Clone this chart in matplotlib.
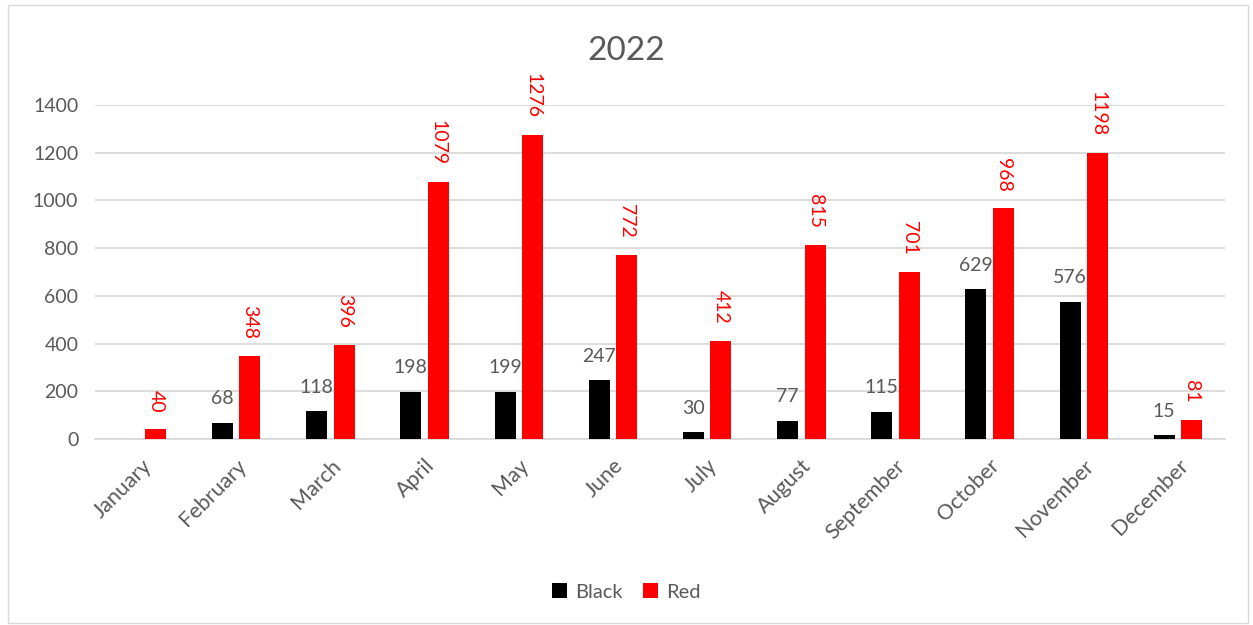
import matplotlib.pyplot as plt
import numpy as np

months = ['January', 'February', 'March', 'April', 'May', 'June', 'July',
          'August', 'September', 'October', 'November', 'December']
black = [np.nan, 68, 118, 198, 199, 247, 30, 77, 115, 629, 576, 15]
red = [40, 348, 396, 1079, 1276, 772, 412, 815, 701, 968, 1198, 81]
yticks = [0, 200, 400, 600, 800, 1000, 1200, 1400]

plt.rcParams['font.family'] = ['Lato', 'DejaVu Sans']
txt = '#595959'

fig = plt.figure(figsize=(12.53, 6.25), dpi=100)
ax = fig.add_axes([0.0758, 0.2976, 0.9019, 0.5344])

x = np.arange(len(months))
w = 0.223
off = 0.146
b1 = ax.bar(x - off, black, w, color='black', label='Black', zorder=3)
b2 = ax.bar(x + off, red, w, color='#ff0000', label='Red', zorder=3)

for xi, v in zip(x, black):
    if np.isnan(v):
        continue
    ax.annotate(str(int(v)), (xi - off, v), xytext=(0, 11), textcoords='offset points',
                ha='center', va='bottom', fontsize=14, color=txt)
for xi, v in zip(x, red):
    ax.annotate(str(int(v)), (xi + off, v), xytext=(0, 12), textcoords='offset points',
                ha='center', va='bottom', rotation=270, fontsize=14, color='#ff0000')

ax.set_xlim(-0.5, len(months) - 0.5)
ax.set_ylim(0, 1400)
ax.set_yticks(yticks)
ax.set_yticklabels([str(t) for t in yticks], fontsize=14, color=txt)
ax.set_xticks(x)
ax.set_xticklabels(months, rotation=45, ha='right', rotation_mode='anchor',
                   fontsize=15.5, color=txt)
ax.tick_params(axis='y', length=0, pad=12)
ax.tick_params(axis='x', length=0, pad=12)
ax.yaxis.grid(True, color='#d9d9d9', linewidth=1.3, zorder=0)
ax.set_axisbelow(True)
for s in ['top', 'right', 'left']:
    ax.spines[s].set_visible(False)
ax.spines['bottom'].set_color('#d9d9d9')
ax.spines['bottom'].set_linewidth(1.3)

fig.text(0.5, 0.918, '2022', ha='center', va='center', fontsize=24, color=txt)
fig.legend(handles=[b1, b2], loc='center', bbox_to_anchor=(0.5, 0.053), ncol=2,
           frameon=False, fontsize=14.5, labelcolor=txt, handlelength=0.75,
           handleheight=0.75, handletextpad=0.4, columnspacing=1.0)

# light frame around the whole chart
fig.patches.append(plt.Rectangle((0.006, 0.004), 0.99, 0.988, transform=fig.transFigure,
                                 fill=False, edgecolor='#d9d9d9', linewidth=1))

fig.savefig('out.png', dpi=100)
